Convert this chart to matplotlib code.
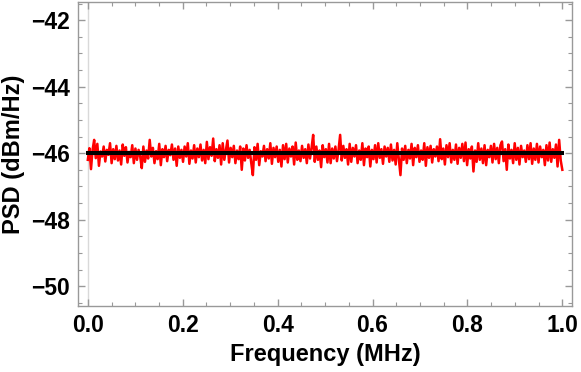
import numpy as np
import matplotlib
matplotlib.use("Agg")
import matplotlib.pyplot as plt
from matplotlib.ticker import MultipleLocator, FuncFormatter

plt.rcParams['font.family'] = ['Liberation Sans', 'DejaVu Sans']
plt.rcParams['font.weight'] = 'bold'

psd_measured = [
    -46.2, -45.85, -46.48, -45.9, -45.6, -46.15, -45.72, -46.38, -45.95, -46.1, -45.8, -46.25, -45.9, -46.05, -45.7, -46.3, -45.88, -46.18, -45.78, -46.22,
    -45.92, -46.34, -45.74, -46.08, -45.82, -46.28, -45.96, -46.12, -45.76, -46.3, -45.86, -46.2, -45.9, -46.1, -46.45, -45.8, -46.26, -45.92, -46.16, -45.6,
    -46.1, -45.84, -46.3, -45.94, -46.18, -45.72, -46.36, -45.88, -46.12, -45.78, -46.24, -45.9, -46.06, -45.74, -46.2, -45.86, -46.38, -45.8, -46.14, -45.9,
    -46.26, -45.8, -46.1, -45.7, -46.32, -45.92, -46.16, -45.76, -46.28, -45.86, -46.12, -45.74, -46.22, -45.9, -46.3, -45.66, -46.18, -45.82, -46.08, -45.56,
    -46.24, -45.88, -46.14, -45.76, -46.34, -45.7, -46.2, -45.9, -45.62, -46.28, -45.84, -46.12, -45.78, -46.3, -45.92, -46.18, -45.8, -46.5, -45.86, -46.22,
    -45.76, -46.14, -45.9, -46.3, -46.66, -45.82, -46.2, -45.72, -46.36, -45.94, -46.1, -45.78, -46.24, -45.88, -46.16, -45.7, -46.32, -45.84, -46.12, -45.8,
    -46.26, -45.9, -46.4, -45.76, -46.18, -45.72, -46.28, -45.86, -46.1, -45.8, -46.34, -45.68, -46.2, -45.92, -46.24, -45.78, -46.14, -45.88, -46.3, -45.74,
    -46.16, -45.84, -45.45, -46.26, -45.8, -46.2, -45.92, -46.42, -45.76, -46.12, -45.88, -46.28, -45.72, -46.3, -45.86, -46.16, -45.8, -46.24, -45.9, -45.45,
    -46.22, -45.78, -46.14, -45.88, -46.34, -45.72, -46.26, -45.84, -46.1, -45.76, -46.3, -45.92, -46.2, -45.7, -46.36, -45.86, -46.12, -45.8, -46.4, -45.9,
    -46.18, -45.76, -46.28, -45.7, -46.14, -45.88, -46.32, -45.8, -46.1, -45.84, -46.26, -45.74, -46.22, -45.9, -46.34, -45.7, -46.18, -46.66, -45.86, -46.2,
    -45.78, -46.3, -45.9, -46.16, -45.72, -46.36, -45.84, -46.12, -45.76, -46.26, -45.92, -46.2, -45.7, -46.38, -45.82, -46.14, -45.78, -46.28, -45.88, -46.1,
    -45.8, -46.24, -45.58, -46.18, -45.86, -46.34, -45.76, -46.12, -45.7, -46.28, -45.9, -46.2, -45.74, -46.32, -45.84, -46.14, -45.72, -46.24, -45.68, -46.36,
    -45.88, -46.16, -45.8, -46.55, -45.92, -46.26, -45.7, -46.2, -45.86, -46.3, -45.76, -46.36, -45.9, -46.12, -45.78, -46.28, -45.72, -46.18, -45.84, -46.3,
    -45.76, -45.65, -46.24, -45.88, -46.5, -45.74, -46.16, -45.9, -46.3, -45.7, -46.2, -45.84, -46.34, -45.78, -46.12, -45.92, -46.26, -45.76, -46.18, -45.7,
    -46.32, -45.86, -46.2, -45.72, -46.28, -45.8, -46.12, -45.9, -46.36, -45.76, -46.22, -45.68, -46.26, -45.88, -46.14, -45.74, -46.4, -45.6, -46.22, -46.5,
]
freq_mhz = np.linspace(0.0, 1.0, len(psd_measured))
psd_theory_freq = [0.0, 1.0]
psd_theory = [-46.0, -46.0]

fig = plt.figure(figsize=(5.81, 3.72), dpi=100)
ax = fig.add_axes([0.134, 0.177, 0.851, 0.818])

ax.axvline(0.0, color='#d9d9d9', lw=1.0, zorder=0)
ax.plot(freq_mhz, psd_measured, color='#ff0000', lw=1.8, zorder=2)
ax.plot(psd_theory_freq, psd_theory, color='black', lw=2.9, zorder=3)

ax.set_xlim(-0.021, 1.021)
ax.set_ylim(-50.6, -41.45)
ax.xaxis.set_major_locator(MultipleLocator(0.2))
ax.xaxis.set_minor_locator(MultipleLocator(0.05))
ax.yaxis.set_major_locator(MultipleLocator(2))
ax.yaxis.set_minor_locator(MultipleLocator(0.5))
ax.xaxis.set_major_formatter(FuncFormatter(lambda v, p: f"{v:.1f}"))
ax.yaxis.set_major_formatter(FuncFormatter(lambda v, p: f"\u2212{abs(v):.0f}" if v < 0 else f"{v:.0f}"))

frame_col = '#999999'
for s in ax.spines.values():
    s.set_color(frame_col)
    s.set_linewidth(1.0)
ax.tick_params(which='both', direction='in', color=frame_col, top=True, right=True)
ax.tick_params(which='major', length=5, width=1.0, labelsize=16.5, pad=6)
ax.tick_params(which='minor', length=3, width=0.8)

ax.set_xlabel('Frequency (MHz)', fontsize=17, fontweight='bold', labelpad=4)
ax.set_ylabel('PSD (dBm/Hz)', fontsize=17, fontweight='bold', labelpad=4)

fig.savefig('out.png', dpi=100)
